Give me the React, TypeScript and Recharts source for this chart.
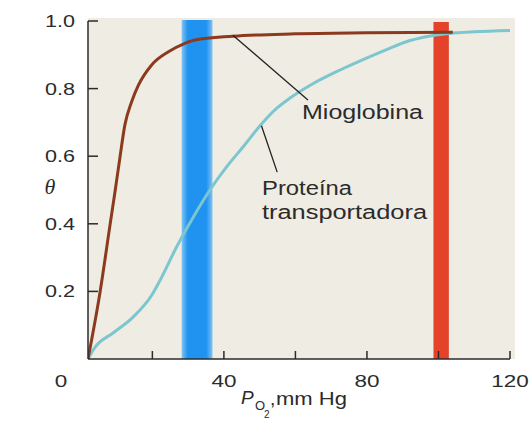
import React from 'react';
import { LineChart, Line, XAxis, YAxis, ReferenceArea, ReferenceLine } from 'recharts';

// P_O2 (mm Hg) vs saturation
const myoglobinPO2 = [2, 5.4, 8.15, 9.55, 10.9, 12.3, 14.2, 16.1, 19.8, 24.5, 29.1, 31.9, 42.5, 60, 80, 104];
const myoglobinTheta = [0, 0.2, 0.396, 0.495, 0.594, 0.692, 0.761, 0.81, 0.87, 0.909, 0.934, 0.944, 0.955, 0.962, 0.965, 0.967];

const carrierPO2 = [2, 4, 9, 14.6, 19.9, 22.1, 26.8, 31.5, 36.1, 40.8, 45.4, 50.1, 54.8, 58.5, 65, 72.5, 86.5, 90, 98.5, 103, 110, 120];
const carrierTheta = [0, 0.035, 0.077, 0.124, 0.19, 0.232, 0.332, 0.421, 0.5, 0.569, 0.628, 0.69, 0.742, 0.772, 0.815, 0.855, 0.92, 0.935, 0.957, 0.963, 0.968, 0.972];

const xTicks = [20, 40, 60, 80, 100, 120];
const xTickLabels = ['', '40', '', '80', '', '120'];
const yTicks = [0.2, 0.4, 0.6, 0.8, 1.0];
const yTickLabels = ['0.2', '0.4', '0.6', '0.8', '1.0'];

// tissue (blue) and lung (red) P_O2 ranges
const tissueBand = [28.2, 36.8];
const lungBand = [98.6, 102.9];

const myoglobin = myoglobinPO2.map((p, i) => ({ p, theta: myoglobinTheta[i] }));
const carrier = carrierPO2.map((p, i) => ({ p, theta: carrierTheta[i] }));

const FONT = '"Liberation Sans", Arial, sans-serif';
const INK = '#2b2b2b';

const XTick = (props: any) => {
  const { x, y, payload } = props;
  const label = xTickLabels[xTicks.indexOf(payload.value)];
  return (
    <g>
      <line x1={x} y1={y} x2={x} y2={y - 8} stroke={INK} strokeWidth={1.5} />
      {label && (
        <text x={x} y={y + 28} textAnchor="middle" fontFamily={FONT} fontSize={17} fill={INK}
          textLength={label.length * 12.5} lengthAdjust="spacingAndGlyphs">
          {label}
        </text>
      )}
    </g>
  );
};

const YTick = (props: any) => {
  const { x, y, payload } = props;
  const label = yTickLabels[yTicks.indexOf(payload.value)];
  return (
    <g>
      <line x1={x} y1={y} x2={x + 10} y2={y} stroke={INK} strokeWidth={1.5} />
      <text x={x - 13} y={y + 6} textAnchor="end" fontFamily={FONT} fontSize={17} fill={INK}
        textLength={30} lengthAdjust="spacingAndGlyphs">
        {label}
      </text>
    </g>
  );
};

export default function App() {
  return (
    <div style={{ position: 'absolute', left: 0, top: 0, width: 532, height: 422, background: '#fff' }}>
      {/* beige paper behind the plot */}
      <div style={{ position: 'absolute', left: 88, top: 18, width: 427, height: 341, background: '#efece3' }} />
      <LineChart width={532} height={422} margin={{ top: 21, right: 22, bottom: 33, left: 28 }}>
        <defs>
          <linearGradient id="tissueGrad" x1="0" y1="0" x2="1" y2="0">
            <stop offset="0" stopColor="#80c2f2" />
            <stop offset="0.2" stopColor="#2093f0" />
            <stop offset="0.8" stopColor="#2093f0" />
            <stop offset="1" stopColor="#80c2f2" />
          </linearGradient>
        </defs>
        <XAxis type="number" dataKey="p" domain={[2, 120]} ticks={xTicks} height={30}
          tickSize={0} tickMargin={0} tickLine={false} tick={<XTick />}
          axisLine={{ stroke: INK, strokeWidth: 1.5 }} allowDataOverflow />
        <YAxis type="number" dataKey="theta" domain={[0, 1]} ticks={yTicks} width={60}
          tickSize={0} tickMargin={0} tickLine={false} tick={<YTick />}
          axisLine={{ stroke: INK, strokeWidth: 1.5 }} allowDataOverflow />
        <ReferenceArea x1={tissueBand[0]} x2={tissueBand[1]} y1={0} y2={1.003} ifOverflow="visible"
          fill="url(#tissueGrad)" fillOpacity={1} stroke="none" />
        <ReferenceArea x1={lungBand[0]} x2={lungBand[1]} y1={0} y2={0.997} ifOverflow="visible"
          fill="#e4432a" fillOpacity={1} stroke="none" />
        <Line data={carrier} dataKey="theta" type="monotone" stroke="#7cc6d0" strokeWidth={3}
          dot={false} isAnimationActive={false} />
        <Line data={myoglobin} dataKey="theta" type="monotone" stroke="#8b3a1d" strokeWidth={3}
          dot={false} isAnimationActive={false} />
        <ReferenceLine segment={[{ x: 42.5, y: 0.958 }, { x: 63.5, y: 0.766 }]} stroke="#222" strokeWidth={1.3} />
        <ReferenceLine segment={[{ x: 50.5, y: 0.69 }, { x: 54.9, y: 0.553 }]} stroke="#222" strokeWidth={1.3} />
      </LineChart>
      <svg width={532} height={422} style={{ position: 'absolute', left: 0, top: 0, pointerEvents: 'none' }}>
        <text x={302} y={119} fontFamily={FONT} fontSize={20} fill={INK} textLength={121} lengthAdjust="spacingAndGlyphs">Mioglobina</text>
        <text x={262} y={195} fontFamily={FONT} fontSize={20} fill={INK} textLength={90} lengthAdjust="spacingAndGlyphs">Proteína</text>
        <text x={262} y={219} fontFamily={FONT} fontSize={20} fill={INK} textLength={165} lengthAdjust="spacingAndGlyphs">transportadora</text>
        <text x={50} y={194} textAnchor="middle" fontFamily='"Liberation Serif", serif' fontStyle="italic" fontSize={22} fill={INK}>θ</text>
        <text x={61} y={387} textAnchor="middle" fontFamily={FONT} fontSize={17} fill={INK} textLength={12.5} lengthAdjust="spacingAndGlyphs">0</text>
        <text x={241} y={404} fontFamily={FONT} fontStyle="italic" fontSize={19} fill={INK}>P</text>
        <text x={255} y={410} fontFamily={FONT} fontSize={13} fill={INK}>O</text>
        <text x={264} y={418} fontFamily={FONT} fontSize={10} fill={INK}>2</text>
        <text x={270} y={405} fontFamily={FONT} fontSize={19} fill={INK}>,</text>
        <text x={276} y={405} fontFamily={FONT} fontSize={19} fill={INK} textLength={71} lengthAdjust="spacingAndGlyphs">mm Hg</text>
      </svg>
    </div>
  );
}
